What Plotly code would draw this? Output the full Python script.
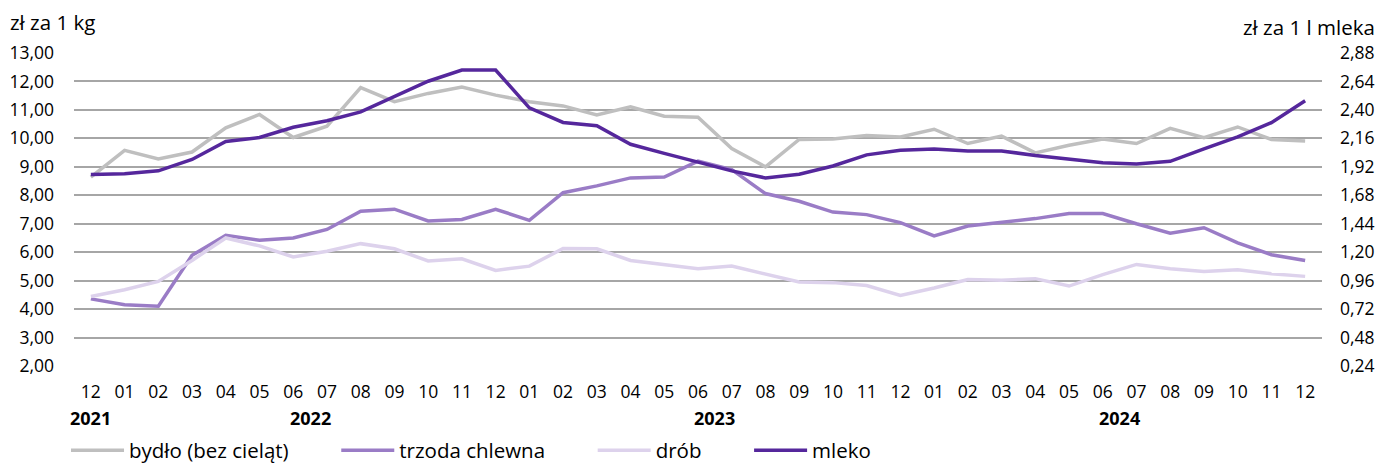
import plotly.graph_objects as go

months = ["12", "01", "02", "03", "04", "05", "06", "07", "08", "09", "10", "11", "12",
          "01", "02", "03", "04", "05", "06", "07", "08", "09", "10", "11", "12",
          "01", "02", "03", "04", "05", "06", "07", "08", "09", "10", "11", "12"]
years = ["2021", "2022", "2023", "2024"]
year_pos = [0, 6.5, 18.5, 30.5]

# zł za 1 kg
bydlo = [8.64, 9.58, 9.28, 9.52, 10.37, 10.84, 10.03, 10.43, 11.78, 11.29, 11.58, 11.80, 11.52,
         11.29, 11.14, 10.82, 11.11, 10.78, 10.74, 9.64, 9.00, 9.96, 9.98, 10.10, 10.05,
         10.32, 9.82, 10.08, 9.49, 9.76, 9.98, 9.82, 10.35, 10.02, 10.40, 9.96, 9.91]
trzoda = [4.36, 4.15, 4.10, 5.89, 6.59, 6.42, 6.50, 6.80, 7.44, 7.51, 7.10, 7.15, 7.51,
          7.12, 8.09, 8.33, 8.61, 8.64, 9.20, 8.90, 8.06, 7.79, 7.41, 7.32, 7.04,
          6.57, 6.92, 7.06, 7.18, 7.36, 7.36, 7.00, 6.67, 6.86, 6.33, 5.91, 5.71]
drob = [4.44, 4.68, 4.97, 5.71, 6.50, 6.22, 5.83, 6.03, 6.30, 6.12, 5.69, 5.77, 5.36,
        5.51, 6.13, 6.12, 5.71, 5.57, 5.42, 5.51, 5.22, 4.95, 4.93, 4.83, 4.48,
        4.74, 5.04, 5.01, 5.07, 4.81, 5.21, 5.57, 5.42, 5.32, 5.38, 5.24, 5.15]
# zł za 1 l mleka
mleko = [1.855, 1.862, 1.886, 1.982, 2.134, 2.167, 2.254, 2.309, 2.383, 2.510, 2.642, 2.736, 2.736,
         2.417, 2.294, 2.266, 2.110, 2.033, 1.961, 1.886, 1.826, 1.858, 1.927, 2.021, 2.059,
         2.071, 2.054, 2.054, 2.016, 1.982, 1.954, 1.944, 1.966, 2.071, 2.172, 2.292, 2.477]

left_ticks = [2, 3, 4, 5, 6, 7, 8, 9, 10, 11, 12, 13]
right_ticks = [0.24 * k for k in range(1, 13)]

FONT = "Open Sans"
TICK = 17.5
TEXT = 20.5
PAD = "\u00a0" * 8  # extra room after each legend entry
x = list(range(len(months)))

fig = go.Figure()
series = [
    ("bydło (bez cieląt)", bydlo, "#BFBFBF", "y"),
    ("trzoda chlewna", trzoda, "#9A7CC6", "y"),
    ("drób", drob, "#DDD2EC", "y"),
    ("mleko", mleko, "#55279C", "y2"),
]
for name, vals, color, ax in series:
    fig.add_trace(go.Scatter(
        x=x, y=vals, name=name + PAD, mode="lines", yaxis=ax,
        line=dict(color=color, width=3.5),
    ))

for yr, pos in zip(years, year_pos):
    fig.add_annotation(x=pos, y=-0.166, xref="x", yref="paper", text="<b>" + yr + "</b>",
                       showarrow=False, yanchor="middle",
                       font=dict(family=FONT, size=18, color="#000000"))

fig.add_annotation(x=-0.0529, y=1.099, xref="paper", yref="paper", text="zł za 1 kg",
                   showarrow=False, xanchor="left", yanchor="middle",
                   font=dict(family=FONT, size=TEXT, color="#000000"))
fig.add_annotation(x=1.044, y=1.083, xref="paper", yref="paper", text="zł za 1 l mleka",
                   showarrow=False, xanchor="right", yanchor="middle",
                   font=dict(family=FONT, size=TEXT, color="#000000"))

fig.update_layout(
    width=1369, height=458,
    margin=dict(l=66, r=55, t=45, b=100, autoexpand=False),
    paper_bgcolor="white", plot_bgcolor="white",
    font=dict(family=FONT, size=TICK, color="#000000"),
    xaxis=dict(
        range=[-0.5, 36.5], tickmode="array", tickvals=x, ticktext=months,
        showgrid=False, zeroline=False, showline=False, ticks="",
        ticklabelstandoff=13,
    ),
    yaxis=dict(
        range=[2, 13], tickmode="array", tickvals=left_ticks,
        ticktext=[f"{v:.2f}".replace(".", ",") for v in left_ticks],
        showgrid=True, gridcolor="#A6A6A6", gridwidth=1.5, zeroline=False,
        showline=False, ticks="", ticklabelstandoff=19,
    ),
    yaxis2=dict(
        range=[0.24, 2.88], overlaying="y", side="right", tickmode="array",
        tickvals=right_ticks,
        ticktext=[f"{v:.2f}".replace(".", ",") for v in right_ticks],
        showgrid=False, zeroline=False, showline=False, ticks="",
        ticklabelstandoff=17,
    ),
    legend=dict(
        orientation="h", x=-0.0064, y=-0.27, xanchor="left", yanchor="middle",
        font=dict(family=FONT, size=TEXT), itemwidth=53, traceorder="normal",
    ),
)

fig.write_html("out.html")
